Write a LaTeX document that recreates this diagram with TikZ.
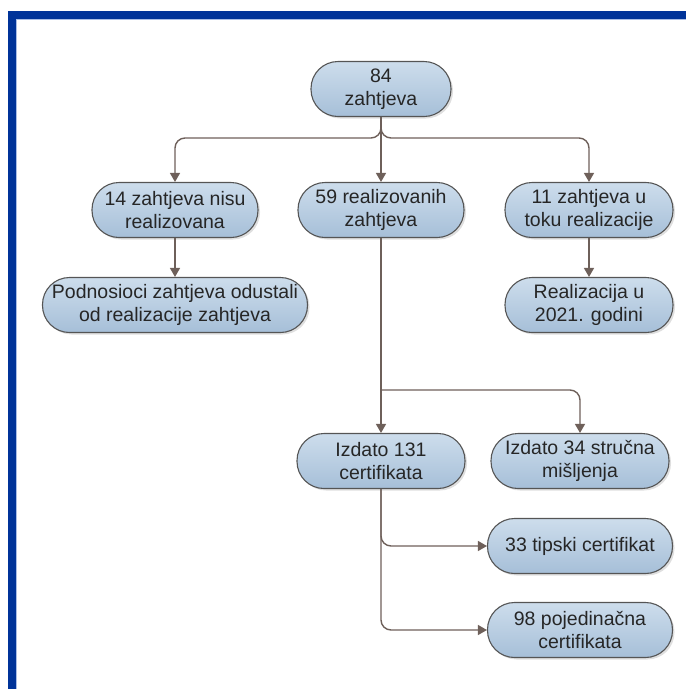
\documentclass[tikz,border=0pt]{standalone}
\usepackage{fontspec}
\setmainfont{Liberation Sans}
\usetikzlibrary{arrows.meta,shadows,calc}
\definecolor{frameblue}{RGB}{0,51,153}
\definecolor{framelight}{RGB}{170,190,230}
\definecolor{conncol}{RGB}{110,96,90}
\definecolor{boxtop}{RGB}{205,221,236}
\definecolor{boxbot}{RGB}{166,191,216}
\definecolor{boxline}{RGB}{85,85,85}
\tikzset{
 box/.style={draw=boxline, line width=1.1pt, rounded corners=27pt, top color=boxtop, bottom color=boxbot,
   minimum height=55pt, align=center, inner sep=2pt, font=\fontsize{19.5}{23}\selectfont, text=black!85,
   drop shadow={shadow xshift=2pt, shadow yshift=-2pt, opacity=0.25, fill=black!50}},
 conn/.style={draw=conncol, line width=1.4pt, -{Triangle[length=9pt,width=10pt]}, rounded corners=10pt},
}
\begin{document}
\begin{tikzpicture}[x=1pt,y=-1pt]
\useasboundingbox (0,0) rectangle (686,689);
% frame
\fill[frameblue] (8,11) rectangle (686,19);
\fill[frameblue] (8,11) rectangle (16,689);
\draw[framelight, line width=0.6pt] (16.3,689) -- (16.3,19.3) -- (686,19.3);
% nodes
\node[box, minimum width=140pt] (n84) at (381,89) {84\\zahtjeva};
\node[box, minimum width=166pt] (n14) at (175,210) {14 zahtjeva nisu\\realizovana};
\node[box, minimum width=166pt] (n59) at (381,210) {59 realizovanih\\zahtjeva};
\node[box, minimum width=168pt] (n11) at (589,210) {11 zahtjeva u\\toku realizacije};
\node[box, minimum width=265pt] (npod) at (175,305) {Podnosioci zahtjeva odustali\\od realizacije zahtjeva};
\node[box, minimum width=168pt] (nreal) at (589,305) {Realizacija u\\2021. godini};
\node[box, minimum width=168pt] (n131) at (381,461) {Izdato 131\\certifikata};
\node[box, minimum width=178pt] (n34) at (580,461) {Izdato 34 stručna\\mišljenja};
\node[box, minimum width=185pt] (n33) at (580,546) {33 tipski certifikat};
\node[box, minimum width=185pt] (n98) at (580,630) {98 pojedinačna\\certifikata};
% connectors
\coordinate (b1) at (381,138);
\coordinate (b2) at (381,390);
\draw[conn] (n84.south) -- (b1) -| (n14.north);
\draw[conn] (n84.south) -- (n59.north);
\draw[conn] (n84.south) -- (b1) -| (n11.north);
\draw[conn] (n14.south) -- (npod.north);
\draw[conn] (n11.south) -- (nreal.north);
\draw[conn] (n59.south) -- (n131.north);
\draw[conn] (b2) -| (n34.north);
\draw[conn] (n131.south) |- (n33.west);
\draw[conn] (n131.south) |- (n98.west);
\end{tikzpicture}
\end{document}
